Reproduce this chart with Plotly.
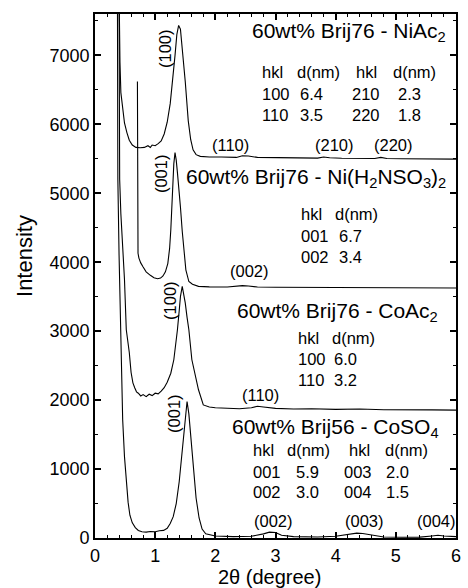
import plotly.graph_objects as go

# ---------------- data ----------------
x_niac = [0.385, 0.40, 0.415, 0.43, 0.46, 0.49, 0.53, 0.57, 0.62, 0.68, 0.75, 0.82, 0.88, 0.92, 0.95,
          1.00, 1.05, 1.10, 1.15, 1.20, 1.25, 1.29, 1.33, 1.36, 1.39, 1.42, 1.46, 1.50, 1.55, 1.59,
          1.63, 1.68, 1.75, 1.90, 2.10, 2.35, 2.45, 2.55, 2.70, 3.00, 3.40, 3.70, 3.80, 3.90, 4.10,
          4.40, 4.65, 4.75, 4.85, 5.10, 5.50, 6.00]
y_niac = [9000, 7500, 6900, 6460, 6200, 6020, 5880, 5770, 5700, 5665, 5660, 5665, 5690, 5665, 5700,
          5690, 5720, 5760, 5860, 6030, 6300, 6620, 7000, 7300, 7435, 7380, 7050, 6620, 6050, 5780,
          5630, 5560, 5535, 5525, 5525, 5520, 5545, 5540, 5520, 5515, 5512, 5510, 5525, 5515, 5508,
          5505, 5505, 5520, 5505, 5500, 5498, 5495]

x_nisulf = [0.705, 0.707, 0.715, 0.73, 0.76, 0.80, 0.85, 0.92, 0.98, 1.04, 1.09, 1.13, 1.17, 1.21,
            1.24, 1.26, 1.28, 1.31, 1.33, 1.35, 1.37, 1.39, 1.42, 1.45, 1.48, 1.51, 1.56, 1.62, 1.72,
            1.90, 2.20, 2.45, 2.55, 2.70, 3.00, 3.50, 4.00, 4.50, 5.00, 5.50, 6.00]
y_nisulf = [6620, 4300, 4130, 4060, 3990, 3930, 3860, 3810, 3775, 3760, 3770, 3800, 3860, 3980,
            4200, 4470, 4950, 5430, 5590, 5480, 5300, 5130, 4800, 4450, 4120, 3890, 3720, 3680, 3650,
            3642, 3640, 3660, 3655, 3640, 3636, 3635, 3632, 3630, 3630, 3628, 3625]

x_coac = [0.395, 0.41, 0.43, 0.46, 0.49, 0.52, 0.55, 0.57, 0.60, 0.63, 0.66, 0.69, 0.72, 0.76, 0.80,
          0.85, 0.90, 0.95, 1.00, 1.05, 1.10, 1.15, 1.20, 1.26, 1.31, 1.34, 1.37, 1.40, 1.42, 1.45,
          1.48, 1.50, 1.53, 1.56, 1.61, 1.67, 1.72, 1.80, 1.90, 2.00, 2.20, 2.40, 2.60, 2.70, 2.80,
          3.00, 3.30, 3.60, 4.00, 4.40, 4.80, 5.20, 5.60, 6.00]
y_coac = [9000, 5200, 4700, 4200, 3750, 3020, 2820, 2690, 2400, 2250, 2180, 2120, 2100, 2060, 2080,
          2050, 2085, 2065, 2100, 2090, 2130, 2180, 2260, 2390, 2585, 2780, 3020, 3300, 3500, 3650,
          3520, 3410, 3200, 3020, 2585, 2340, 2150, 1930, 1900, 1890, 1880, 1875, 1890, 1910, 1900,
          1880, 1870, 1875, 1865, 1870, 1860, 1862, 1858, 1855]

x_coso = [0.37, 0.38, 0.40, 0.42, 0.44, 0.46, 0.49, 0.52, 0.55, 0.58, 0.62, 0.67, 0.72, 0.78, 0.85,
          0.92, 1.00, 1.07, 1.14, 1.20, 1.25, 1.30, 1.35, 1.40, 1.45, 1.49, 1.53, 1.56, 1.60, 1.64,
          1.68, 1.73, 1.78, 1.84, 1.92, 2.00, 2.30, 2.60, 2.80, 2.90, 3.00, 3.10, 3.30, 3.70, 4.00,
          4.20, 4.35, 4.45, 4.60, 4.80, 5.10, 5.40, 5.60, 5.70, 5.80, 6.00]
y_coso = [9000, 5200, 4100, 3100, 2300, 1715, 1180, 800, 520, 330, 220, 150, 110, 90, 85,
          95, 90, 105, 110, 140, 210, 310, 500, 820, 1260, 1700, 1980, 1800, 1380, 950,
          580, 290, 130, 60, 40, 30, 20, 25, 60, 85, 80, 40, 20, 15, 25,
          50, 70, 65, 40, 15, 10, 12, 30, 40, 30, 20]

series_x = [x_niac, x_nisulf, x_coac, x_coso]
series_y = [y_niac, y_nisulf, y_coac, y_coso]

x_ticks = [0, 1, 2, 3, 4, 5, 6]
y_ticks = [0, 1000, 2000, 3000, 4000, 5000, 6000, 7000]

x_title = "2θ (degree)"
y_title = "Intensity"

sample_titles = ["60wt% Brij76 - NiAc<sub>2</sub>",
                 "60wt% Brij76 - Ni(H<sub>2</sub>NSO<sub>3</sub>)<sub>2</sub>",
                 "60wt% Brij76 - CoAc<sub>2</sub>",
                 "60wt% Brij56 - CoSO<sub>4</sub>"]

table_niac = [["hkl", "d(nm)", "hkl", "d(nm)"], ["100", "6.4", "210", "2.3"], ["110", "3.5", "220", "1.8"]]
table_nisulf = [["hkl", "d(nm)"], ["001", "6.7"], ["002", "3.4"]]
table_coac = [["hkl", "d(nm)"], ["100", "6.0"], ["110", "3.2"]]
table_coso = [["hkl", "d(nm)", "hkl", "d(nm)"], ["001", "5.9", "003", "2.0"], ["002", "3.0", "004", "1.5"]]

peak_labels_flat = ["(110)", "(210)", "(220)", "(002)", "(110)", "(002)", "(003)", "(004)"]
peak_labels_rot = ["(100)", "(001)", "(100)", "(001)"]

# ---------------- figure ----------------
W, H = 468, 588
L, R, T, B = 95, 7, 14, 50
X0, X1, Y0, Y1 = 0, 6, 0, 7600

def px2x(px):
    return X0 + (px - L) / (W - L - R) * (X1 - X0)

def py2y(py):
    return Y0 + (H - B - py) / (H - T - B) * (Y1 - Y0)

fig = go.Figure()
for xs, ys in zip(series_x, series_y):
    fig.add_trace(go.Scatter(x=xs, y=ys, mode="lines",
                             line=dict(color="black", width=1.1), showlegend=False,
                             hoverinfo="skip"))

FONT = "Liberation Sans, Arial, sans-serif"
ann = []

def add_text(text, px, py, size, xanchor="left", angle=0):
    ann.append(dict(text=text, x=px2x(px), y=py2y(py), xref="x", yref="y",
                    showarrow=False, xanchor=xanchor, yanchor="middle",
                    textangle=angle, font=dict(family=FONT, size=size, color="black")))

# sample titles: (x px, anchor, center y px)
title_pos = [(453, "right", 32), (185, "left", 178), (237, "left", 312), (232, "left", 428)]
for t, (px, anc, py) in zip(sample_titles, title_pos):
    add_text(t, px, py, 21, xanchor=anc)

def add_table(tab, col_hdr, col_val, row_y):
    for r, row in enumerate(tab):
        cols = col_hdr if r == 0 else col_val
        for c, cell in enumerate(row):
            add_text(cell, cols[c], row_y[r], 16.5)

add_table(table_niac, [262, 298, 358, 395], [262, 301, 354, 400], [72, 94, 115])
add_table(table_nisulf, [302, 336], [302, 340], [214, 236, 257])
add_table(table_coac, [299, 333], [299, 335], [338, 359, 380])
add_table(table_coso, [253, 288, 350, 387], [253, 297, 345, 388], [450, 472, 492])

flat_pos = [(232, 145), (338, 145), (398, 145), (252, 271), (263, 395), (276, 521), (368, 521), (441, 521)]
for t, (px, py) in zip(peak_labels_flat, flat_pos):
    add_text(t, px, py, 16.5, xanchor="center")

rot_pos = [(166, 49), (162, 174), (171, 300), (175, 413)]
for t, (px, py) in zip(peak_labels_rot, rot_pos):
    add_text(t, px, py, 16.5, xanchor="center", angle=-90)

# axis titles as paper annotations
ann.append(dict(text=x_title, x=(272 - L) / (W - L - R), y=-(577 - (H - B)) / (H - T - B),
                xref="paper", yref="paper", showarrow=False, xanchor="center", yanchor="middle",
                font=dict(family=FONT, size=20, color="black")))
ann.append(dict(text=y_title, x=-(L - 23) / (W - L - R), y=(H - B - 256) / (H - T - B),
                xref="paper", yref="paper", showarrow=False, xanchor="center", yanchor="middle",
                textangle=-90, font=dict(family=FONT, size=22, color="black")))

axis_common = dict(showline=True, linecolor="black", linewidth=1.8, mirror="allticks",
                   ticks="inside", ticklen=6, tickwidth=1.5, tickcolor="black",
                   showgrid=False, zeroline=False,
                   tickfont=dict(family=FONT, size=18, color="black"))

fig.update_layout(
    width=W, height=H,
    margin=dict(l=L, r=R, t=T, b=B, pad=0),
    paper_bgcolor="white", plot_bgcolor="white",
    annotations=ann,
    xaxis=dict(range=[X0, X1], tickvals=x_ticks, ticktext=[str(v) for v in x_ticks],
               minor=dict(dtick=0.2, ticks="inside", ticklen=3.5, tickwidth=1.2, tickcolor="black"),
               **axis_common),
    yaxis=dict(range=[Y0, Y1], tickvals=y_ticks, ticktext=[str(v) for v in y_ticks],
               minor=dict(dtick=500, ticks="inside", ticklen=3.5, tickwidth=1.2, tickcolor="black"),
               **axis_common),
)

fig.write_html("out.html", config={"displayModeBar": False},
               post_script="document.body.style.margin='0';document.body.style.overflow='hidden';")
